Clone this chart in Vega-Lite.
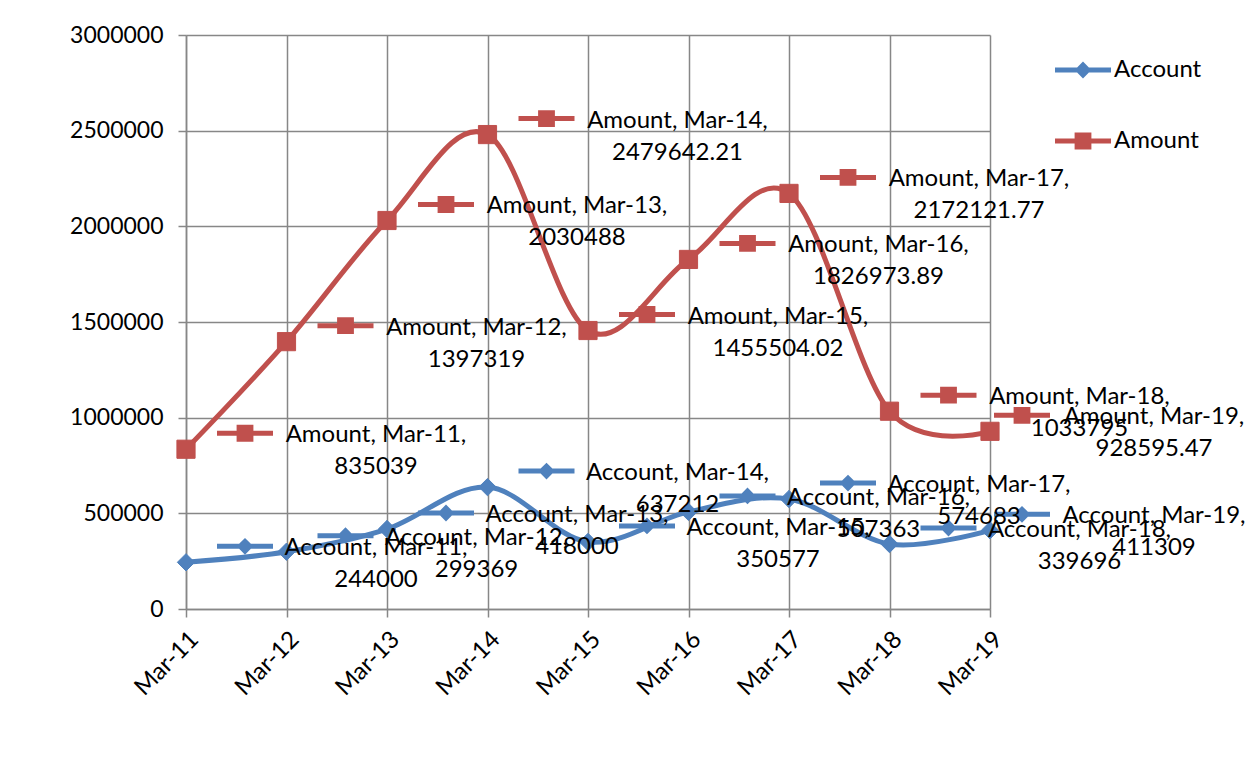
{
  "$schema": "https://vega.github.io/schema/vega-lite/v6.json",
  "width": 804,
  "height": 574,
  "autosize": {"type": "none"},
  "padding": {"left": 186, "top": 35, "right": 265, "bottom": 164},
  "background": "white",
  "config": {
    "font": "Lato",
    "view": {"stroke": null},
    "axis": {
      "labelFont": "Lato",
      "labelColor": "black",
      "labelFontSize": 23,
      "domainColor": "#878787",
      "domainWidth": 1.5,
      "tickColor": "#878787",
      "tickWidth": 1.5,
      "tickSize": 8,
      "gridColor": "#878787",
      "gridWidth": 1.5,
      "gridOpacity": 1,
      "title": null
    }
  },
  "data": {
    "values": [
      {"month": "Mar-11", "series": "Account", "value": 244000},
      {"month": "Mar-12", "series": "Account", "value": 299369},
      {"month": "Mar-13", "series": "Account", "value": 418000},
      {"month": "Mar-14", "series": "Account", "value": 637212},
      {"month": "Mar-15", "series": "Account", "value": 350577},
      {"month": "Mar-16", "series": "Account", "value": 507363},
      {"month": "Mar-17", "series": "Account", "value": 574683},
      {"month": "Mar-18", "series": "Account", "value": 339696},
      {"month": "Mar-19", "series": "Account", "value": 411309},
      {"month": "Mar-11", "series": "Amount", "value": 835039},
      {"month": "Mar-12", "series": "Amount", "value": 1397319},
      {"month": "Mar-13", "series": "Amount", "value": 2030488},
      {"month": "Mar-14", "series": "Amount", "value": 2479642.21},
      {"month": "Mar-15", "series": "Amount", "value": 1455504.02},
      {"month": "Mar-16", "series": "Amount", "value": 1826973.89},
      {"month": "Mar-17", "series": "Amount", "value": 2172121.77},
      {"month": "Mar-18", "series": "Amount", "value": 1033795},
      {"month": "Mar-19", "series": "Amount", "value": 928595.47}
    ]
  },
  "encoding": {
    "x": {
      "field": "month",
      "type": "ordinal",
      "scale": {"type": "point", "padding": 0},
      "axis": {"labelAngle": -45, "grid": true, "labelPadding": 10, "labelFontSize": 24}
    },
    "y": {
      "field": "value",
      "type": "quantitative",
      "scale": {"domain": [0, 3000000], "nice": false},
      "axis": {
        "values": [0, 500000, 1000000, 1500000, 2000000, 2500000, 3000000],
        "format": "d",
        "grid": true,
        "labelPadding": 15
      }
    }
  },
  "layer": [
    {
      "transform": [{"filter": "datum.series == 'Account'"}],
      "mark": {"type": "line", "interpolate": "cardinal", "tension": 0, "strokeWidth": 5, "strokeCap": "round", "color": "#4F81BD"}
    },
    {
      "transform": [{"filter": "datum.series == 'Amount'"}],
      "mark": {"type": "line", "interpolate": "cardinal", "tension": 0, "strokeWidth": 5, "strokeCap": "round", "color": "#C0504D"}
    },
    {
      "transform": [{"filter": "datum.series == 'Account'"}],
      "mark": {"type": "point", "shape": "diamond", "size": 300, "filled": true, "opacity": 1, "color": "#4F81BD", "stroke": "#4F81BD", "strokeWidth": 1}
    },
    {
      "transform": [{"filter": "datum.series == 'Amount'"}],
      "mark": {"type": "point", "shape": "square", "size": 330, "filled": true, "opacity": 1, "color": "#C0504D", "stroke": "#C0504D", "strokeWidth": 1}
    },
    {
      "transform": [{"filter": "datum.month != 'Mar-19'"}],
      "mark": {"type": "point", "filled": true, "opacity": 1, "size": 3136, "xOffset": 59, "yOffset": -16, "strokeWidth": 0},
      "encoding": {
        "color": {
          "field": "series",
          "type": "nominal",
          "scale": {"domain": ["Account", "Amount"], "range": ["#4F81BD", "#C0504D"]},
          "legend": {
            "orient": "none",
            "legendX": 869,
            "legendY": 7,
            "title": null,
            "padding": 0,
            "symbolSize": 3136,
            "symbolStrokeWidth": 0,
            "symbolOpacity": 1,
            "labelFontSize": 24,
            "labelFont": "Lato",
            "labelColor": "black",
            "labelOffset": 3,
            "rowPadding": 31
          }
        },
        "shape": {
          "field": "series",
          "type": "nominal",
          "scale": {
            "domain": ["Account", "Amount"],
            "range": [
              "M-1,-0.09H-0.21L0,-0.3L0.21,-0.09H1V0.09H0.21L0,0.3L-0.21,0.09H-1Z",
              "M-1,-0.09H-0.3V-0.3H0.3V-0.09H1V0.09H0.3V0.3H-0.3V0.09H-1Z"
            ]
          },
          "legend": {
            "orient": "none",
            "legendX": 869,
            "legendY": 7,
            "title": null,
            "padding": 0,
            "symbolSize": 3136,
            "symbolStrokeWidth": 0,
            "symbolOpacity": 1,
            "labelFontSize": 24,
            "labelFont": "Lato",
            "labelColor": "black",
            "labelOffset": 3,
            "rowPadding": 31
          }
        }
      }
    },
    {
      "transform": [{"filter": "datum.month == 'Mar-19'"}],
      "mark": {"type": "point", "filled": true, "opacity": 1, "size": 3136, "xOffset": 32, "yOffset": -16, "strokeWidth": 0},
      "encoding": {
        "color": {"field": "series", "type": "nominal"},
        "shape": {"field": "series", "type": "nominal"}
      }
    },
    {
      "transform": [
        {"filter": "datum.month != 'Mar-19'"},
        {"calculate": "[datum.series + ', ' + datum.month + ',', '' + datum.value]", "as": "label"}
      ],
      "mark": {"type": "text", "align": "center", "baseline": "middle", "dx": 190, "dy": -14, "fontSize": 24, "lineHeight": 32, "font": "Lato", "color": "black"},
      "encoding": {
        "text": {"field": "label", "type": "nominal"}
      }
    },
    {
      "transform": [
        {"filter": "datum.month == 'Mar-19'"},
        {"calculate": "[datum.series + ', ' + datum.month + ',', '' + datum.value]", "as": "label"}
      ],
      "mark": {"type": "text", "align": "center", "baseline": "middle", "dx": 164, "dy": -14, "fontSize": 24, "lineHeight": 32, "font": "Lato", "color": "black"},
      "encoding": {
        "text": {"field": "label", "type": "nominal"}
      }
    }
  ]
}
